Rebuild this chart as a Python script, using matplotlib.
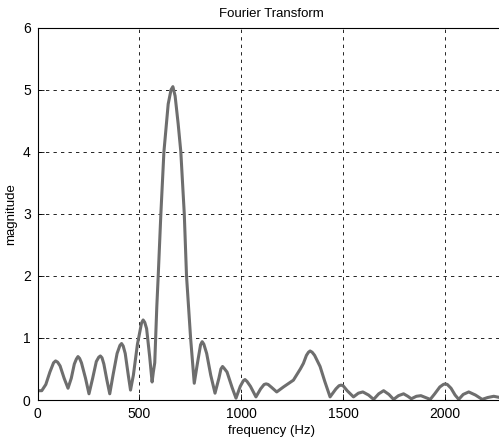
import matplotlib.pyplot as plt

# values
freq = [0, 20, 40, 60, 78, 88, 98, 110, 130, 149, 165, 180, 190, 198, 206, 215, 235,
        252, 270, 288, 300, 308, 316, 325, 340, 354, 370, 390, 404, 412, 420, 430,
        445, 456, 470, 490, 510, 518, 526, 535, 550, 562, 568, 575, 585, 592, 605,
        620, 641, 655, 664, 675, 690, 703, 720, 731, 751, 769, 785, 800, 808, 816,
        830, 850, 871, 890, 900, 908, 916, 930, 955, 974, 995, 1010, 1018, 1028, 1045,
        1072, 1095, 1112, 1122, 1132, 1150, 1174, 1207, 1256, 1290, 1305, 1320, 1330,
        1338, 1348, 1360, 1387, 1410, 1436, 1465, 1480, 1490, 1500, 1520, 1551, 1575,
        1597, 1625, 1650, 1675, 1699, 1725, 1748, 1772, 1797, 1818, 1835, 1860, 1882,
        1905, 1928, 1950, 1975, 1992, 2002, 2012, 2030, 2050, 2068, 2090, 2117, 2150,
        2183, 2210, 2240, 2270, 2300]
mag = [0.15, 0.15, 0.25, 0.45, 0.60, 0.63, 0.61, 0.55, 0.35, 0.19, 0.35, 0.58, 0.66,
       0.70, 0.67, 0.60, 0.35, 0.10, 0.35, 0.62, 0.69, 0.71, 0.68, 0.58, 0.32, 0.10,
       0.40, 0.75, 0.88, 0.91, 0.87, 0.75, 0.40, 0.16, 0.40, 0.90, 1.24, 1.29, 1.25,
       1.15, 0.70, 0.29, 0.45, 0.60, 1.50, 2.00, 3.00, 4.00, 4.77, 5.00, 5.05, 4.90,
       4.45, 4.00, 3.00, 2.00, 1.00, 0.27, 0.60, 0.89, 0.94, 0.90, 0.75, 0.40, 0.11,
       0.35, 0.50, 0.54, 0.51, 0.45, 0.20, 0.03, 0.22, 0.31, 0.33, 0.30, 0.22, 0.05,
       0.18, 0.25, 0.26, 0.25, 0.20, 0.13, 0.21, 0.32, 0.50, 0.59, 0.72, 0.77, 0.79,
       0.77, 0.72, 0.54, 0.30, 0.05, 0.18, 0.23, 0.24, 0.23, 0.15, 0.05, 0.11, 0.13,
       0.08, 0.01, 0.10, 0.15, 0.09, 0.01, 0.07, 0.10, 0.06, 0.02, 0.06, 0.07, 0.04,
       0.01, 0.10, 0.21, 0.25, 0.26, 0.25, 0.19, 0.08, 0.01, 0.09, 0.13, 0.08, 0.01,
       0.04, 0.06, 0.04, 0.02]
xticks = [0, 500, 1000, 1500, 2000]
yticks = [0, 1, 2, 3, 4, 5, 6]

plt.rcParams["font.family"] = ["Liberation Sans", "DejaVu Sans"]

fig = plt.figure(figsize=(4.99, 4.40), dpi=100)
ax = fig.add_axes([0.0755, 0.0909, 1.014 - 0.0755, 0.937 - 0.0909])

ax.plot(freq, mag, color="#6e6e6e", lw=2.2, solid_joinstyle="round")

ax.set_xlim(0, 2300)
ax.set_ylim(0, 6)
ax.set_xticks(xticks)
ax.set_yticks(yticks)
ax.grid(True, color="black", linestyle=(0, (4, 5)), linewidth=0.6)
ax.tick_params(direction="in", length=4, width=0.6, labelsize=10, pad=5)
for s in ax.spines.values():
    s.set_linewidth(0.8)

ax.set_title("Fourier Transform", fontsize=9.5, pad=8)
ax.set_xlabel("frequency (Hz)", fontsize=9.5, labelpad=3)
ax.set_ylabel("magnitude", fontsize=9.5, labelpad=4)

fig.savefig("out.png", dpi=100)
